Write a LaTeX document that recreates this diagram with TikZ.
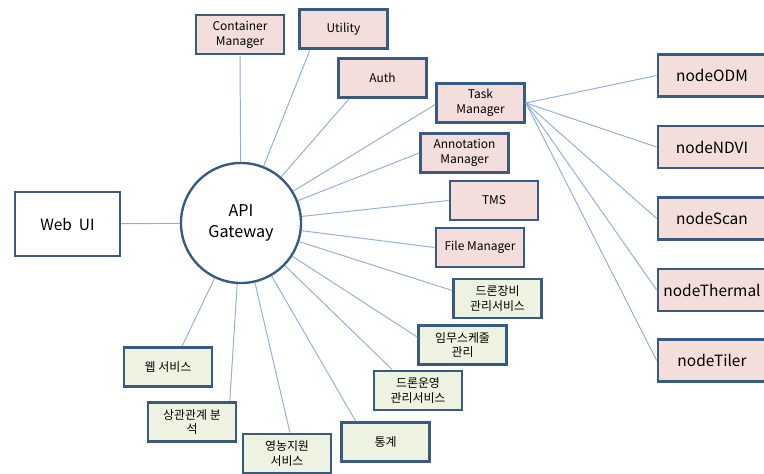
\documentclass[tikz,border=0pt]{standalone}
\usepackage{fontspec}
\setmainfont{Noto Sans CJK KR}
\usepackage{tikz}
\usetikzlibrary{positioning}
\definecolor{edge}{HTML}{3A5A80}
\definecolor{link}{HTML}{95B0D6}
\definecolor{rose}{HTML}{F4DEDC}
\definecolor{sage}{HTML}{EEF2E0}

\begin{document}
\begin{tikzpicture}[
  x=0.025cm, y=-0.025cm,
  box/.style={rectangle,draw=edge,line width=1.9pt,align=center,minimum width=2.2cm,minimum height=0.98cm,inner sep=1pt,font=\fontsize{8.5}{10.5}\selectfont},
  svc/.style={box,fill=rose},
  kor/.style={box,fill=sage},
  wrk/.style={box,fill=rose,minimum width=2.7cm,minimum height=1.05cm,font=\fontsize{11}{13}\selectfont},
  hub/.style={circle,draw=edge,line width=1.7pt,fill=white,minimum size=3.0cm,inner sep=0pt,align=center,font=\fontsize{11.5}{15}\selectfont},
  lnk/.style={draw=link,line width=0.7pt}]

\useasboundingbox (0,0) rectangle (764,474);

\node[hub] (gw) at (241,223) {API\\Gateway};
\node[box,fill=white,minimum width=2.62cm,minimum height=1.6cm,font=\fontsize{11}{13}\selectfont] (web) at (67.5,224) {Web\ \ UI};

\node[svc] (cm)  at (240,34.5)  {Container\\Manager};
\node[svc] (ut)  at (343.5,29)  {Utility};
\node[svc] (au)  at (382.5,78)  {Auth};
\node[svc] (tm)  at (480.5,103) {Task\\Manager};
\node[svc] (an)  at (464.5,153) {Annotation\\Manager};
\node[svc] (tms) at (494,200.5) {TMS};
\node[svc] (fm)  at (480,247.5) {File Manager};

\node[kor] (de) at (497.5,298.5) {드론장비\\관리서비스};
\node[kor] (is) at (462.5,345)   {임무스케줄\\관리};
\node[kor] (do) at (418,390.5)   {드론운영\\관리서비스};
\node[kor] (tg) at (385.5,442)   {통계};
\node[kor] (yn) at (287,453.5)   {영농지원\\서비스};
\node[kor] (sg) at (192,422)     {상관관계 분\\석};
\node[kor] (ws) at (168,367)     {웹 서비스};

\node[wrk] (odm) at (712,75.5)  {nodeODM};
\node[wrk] (ndv) at (712,147)   {nodeNDVI};
\node[wrk] (scn) at (712,218.5) {nodeScan};
\node[wrk] (thm) at (712,290)   {nodeThermal};
\node[wrk] (til) at (712,360.5) {nodeTiler};

\begin{scope}[on background layer/.try]
\draw[lnk] (web) -- (gw);
\draw[lnk] (gw) -- (cm.south); \draw[lnk] (gw) -- (ut.212); \draw[lnk] (gw) -- (au.212);
\draw[lnk] (gw) -- (tm.182); \draw[lnk] (gw) -- (an.west); \draw[lnk] (gw) -- (tms.west);
\draw[lnk] (gw) -- (fm.west); \draw[lnk] (gw) -- (de.170); \draw[lnk] (gw) -- (is.170);
\draw[lnk] (gw) -- (do.141); \draw[lnk] (gw) -- (tg.145); \draw[lnk] (gw) -- (yn.82);
\draw[lnk] (gw) -- (sg.29); \draw[lnk] (gw) -- (ws.56);
\draw[lnk] (tm.east) -- (odm.west); \draw[lnk] (tm.east) -- (ndv.west);
\draw[lnk] (tm.east) -- (scn.west); \draw[lnk] (tm.east) -- (thm.west);
\draw[lnk] (tm.east) -- (til.west);
\end{scope}
\end{tikzpicture}
\end{document}
